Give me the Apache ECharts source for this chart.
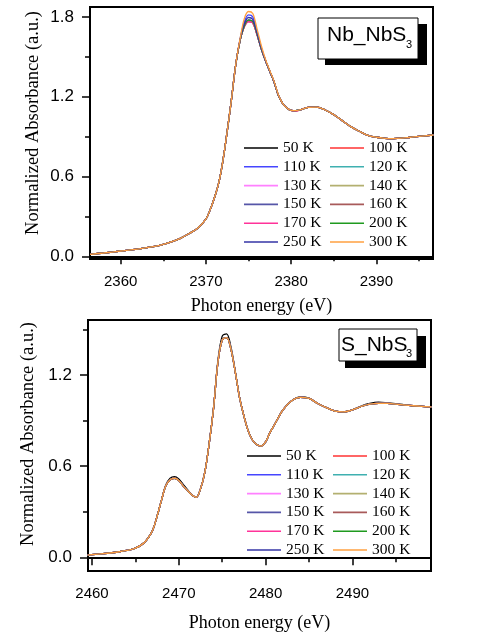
<!DOCTYPE html>
<html>
<head>
<meta charset="utf-8">
<script src="https://cdn.jsdelivr.net/npm/echarts@6/dist/echarts.min.js"></script>
<style>
html,body{margin:0;padding:0;background:#fff;}
#c{width:483px;height:644px;}
</style>
</head>
<body>
<div id="c"></div>
<script>
// ---------- data ----------
const temps = ['50 K','100 K','110 K','120 K','130 K','140 K','150 K','160 K','170 K','200 K','250 K','300 K'];
const colors = ['#000000','#ff3333','#4646ff','#3fb0b0','#ff80ff','#b3b070','#5656a8','#a85a5a','#ff3399','#1f9a1f','#3434a6','#ffa040'];
const legendCol1 = ['50 K','110 K','130 K','150 K','170 K','250 K'];
const legendCol2 = ['100 K','120 K','140 K','160 K','200 K','300 K'];

// Nb_NbS3 panel (top)
const nbE = [2356.4,2358,2360,2362,2364,2365,2366,2367,2368,2369,2370,2370.5,2371,2371.5,2372,2372.5,2373,2373.5,2374,2374.5,2375,2375.5,2376,2376.5,2377,2377.5,2378,2378.5,2379,2379.5,2380,2380.5,2381,2382,2383,2384,2385,2386,2387,2388,2389,2390,2391,2392,2393,2394,2395,2396.7];
const nbMid = [0.015,0.025,0.04,0.055,0.075,0.09,0.11,0.135,0.17,0.21,0.28,0.35,0.44,0.55,0.72,0.94,1.18,1.44,1.62,1.73,1.775,1.765,1.67,1.56,1.47,1.39,1.31,1.21,1.15,1.115,1.097,1.095,1.10,1.12,1.122,1.10,1.065,1.02,0.975,0.94,0.91,0.895,0.887,0.885,0.888,0.895,0.902,0.912];
const nbLow = [0.015,0.025,0.04,0.055,0.075,0.09,0.11,0.135,0.17,0.21,0.28,0.35,0.44,0.55,0.72,0.94,1.18,1.44,1.62,1.725,1.765,1.755,1.665,1.56,1.47,1.39,1.31,1.21,1.15,1.115,1.097,1.093,1.10,1.12,1.122,1.10,1.065,1.02,0.975,0.94,0.91,0.895,0.887,0.885,0.888,0.895,0.902,0.912];
const nbBlue = [0.015,0.025,0.04,0.055,0.075,0.09,0.11,0.135,0.17,0.21,0.28,0.35,0.44,0.55,0.72,0.94,1.18,1.44,1.63,1.76,1.815,1.80,1.69,1.57,1.47,1.39,1.31,1.21,1.15,1.115,1.097,1.095,1.10,1.12,1.122,1.10,1.065,1.02,0.975,0.94,0.91,0.895,0.887,0.885,0.888,0.895,0.902,0.912];
const nbNavy = [0.015,0.025,0.04,0.055,0.075,0.09,0.11,0.135,0.17,0.21,0.28,0.35,0.44,0.55,0.72,0.94,1.18,1.44,1.625,1.745,1.795,1.78,1.68,1.565,1.47,1.39,1.31,1.21,1.15,1.115,1.097,1.095,1.10,1.12,1.122,1.10,1.065,1.02,0.975,0.94,0.91,0.895,0.887,0.885,0.888,0.895,0.902,0.912];
const nbOrange = [0.015,0.025,0.04,0.055,0.075,0.09,0.11,0.135,0.17,0.21,0.28,0.35,0.44,0.55,0.72,0.94,1.18,1.44,1.63,1.785,1.84,1.825,1.71,1.585,1.48,1.395,1.315,1.215,1.15,1.115,1.097,1.095,1.10,1.12,1.122,1.10,1.065,1.02,0.975,0.94,0.91,0.895,0.887,0.885,0.888,0.895,0.902,0.912];
const nbSeries = [nbMid, nbLow, nbBlue, nbMid, nbLow, nbMid, nbMid, nbLow, nbLow, nbMid, nbNavy, nbOrange];

// S_NbS3 panel (bottom)
const sE = [2459.5,2461,2463,2464,2465,2466,2466.5,2467,2467.5,2468,2468.5,2469,2469.5,2470,2470.5,2471,2471.5,2472,2472.5,2473,2473.5,2474,2474.5,2475,2475.5,2476,2476.5,2477,2477.5,2478,2478.5,2479,2479.5,2480,2480.5,2481,2482,2483,2484,2485,2486,2487,2488,2489,2490,2491,2492,2493,2494,2495,2496,2497,2498,2499.1];
const sBase = [0.015,0.022,0.035,0.045,0.06,0.095,0.13,0.18,0.27,0.375,0.47,0.51,0.52,0.505,0.47,0.44,0.41,0.395,0.45,0.56,0.75,0.98,1.28,1.43,1.445,1.37,1.22,1.05,0.93,0.83,0.77,0.74,0.732,0.76,0.82,0.87,0.97,1.03,1.052,1.045,1.012,0.985,0.962,0.957,0.97,0.992,1.008,1.013,1.012,1.008,1.002,0.997,0.993,0.99];
const sBlack = [0.015,0.022,0.035,0.045,0.06,0.095,0.13,0.18,0.27,0.375,0.475,0.52,0.53,0.515,0.48,0.445,0.41,0.395,0.45,0.56,0.75,0.98,1.29,1.455,1.47,1.385,1.225,1.05,0.93,0.83,0.77,0.74,0.732,0.76,0.82,0.87,0.97,1.03,1.055,1.048,1.012,0.985,0.962,0.957,0.97,0.995,1.012,1.02,1.016,1.01,1.003,0.998,0.993,0.99];
const sSeries = [sBlack, sBase, sBase, sBase, sBase, sBase, sBase, sBase, sBase, sBase, sBase, sBase];

// axis ticks
const nbXMajor = [2360,2370,2380,2390];
const nbXMinor = [2365,2375,2385,2395];
const nbYMajor = [0,0.6,1.2,1.8];
const nbYMinor = [0.3,0.9,1.5];
const sXMajor = [2460,2470,2480,2490];
const sXMinor = [2465,2475,2485,2495];
const sYMajor = [0,0.6,1.2];
const sYMinor = [0.3,0.9,1.5];

const nbLabel = ['Nb_NbS', '3'];
const sLabel = ['S_NbS', '3'];
const xTitle = 'Photon energy (eV)';
const yTitle = 'Normalized Absorbance (a.u.)';

// ---------- chart ----------
const SANS = '"Liberation Sans", Arial, sans-serif';
const SERIF = '"Liberation Serif", "Times New Roman", serif';

function mainAxis(type, gridIndex, min, max, major, opts) {
  return Object.assign({
    type: 'value', gridIndex, min, max,
    axisLine: {show: true, lineStyle: {color: '#000', width: 2}},
    axisTick: {show: true, inside: false, length: 8, customValues: major, lineStyle: {color: '#000', width: 1.5}},
    axisLabel: {show: true, customValues: major, color: '#000', fontFamily: SANS, fontSize: 15, margin: 15,
      formatter: v => String(Math.round(v))},
    splitLine: {show: false}
  }, opts || {});
}
function minorAxis(gridIndex, min, max, minor, pos) {
  return {
    type: 'value', gridIndex, min, max, position: pos,
    axisLine: {show: false},
    axisTick: {show: true, inside: false, length: 5, customValues: minor, lineStyle: {color: '#000', width: 1.5}},
    axisLabel: {show: false},
    splitLine: {show: false}
  };
}

const series = [];
temps.forEach((t, i) => {
  series.push({
    name: t, type: 'line', xAxisIndex: 0, yAxisIndex: 0,
    data: nbE.map((e, k) => [e, nbSeries[i][k]]),
    symbol: 'none', showSymbol: false, smooth: 0.35, color: colors[i],
    lineStyle: {width: 1.3, color: colors[i]}
  });
});
temps.forEach((t, i) => {
  series.push({
    name: t, type: 'line', xAxisIndex: 2, yAxisIndex: 2,
    data: sE.map((e, k) => [e, sSeries[i][k]]),
    symbol: 'none', showSymbol: false, smooth: 0.35, color: colors[i],
    lineStyle: {width: 1.3, color: colors[i]}
  });
});

function legend(data, left, top) {
  return {
    data, left, top, orient: 'vertical', padding: 0,
    icon: 'rect', itemWidth: 34, itemHeight: 1.6, itemGap: 2.8, selectedMode: false,
    textStyle: {fontFamily: SERIF, fontSize: 15.5, color: '#000', lineHeight: 14}
  };
}

function labelBox(bx, by, bw, bh, sx, sy, sw, sh, txt, tx, ty, subx, suby) {
  return [
    {type: 'rect', shape: {x: sx, y: sy, width: sw, height: sh}, style: {fill: '#000'}, z: 100},
    {type: 'rect', shape: {x: bx, y: by, width: bw, height: bh}, style: {fill: '#fff', stroke: '#000', lineWidth: 1}, z: 101},
    {type: 'text', x: tx, y: ty, z: 102, style: {text: txt[0], fontFamily: SANS, fontSize: 21, fill: '#000', align: 'left', verticalAlign: 'middle'}},
    {type: 'text', x: subx, y: suby, z: 102, style: {text: txt[1], fontFamily: SANS, fontSize: 11, fill: '#000', align: 'left', verticalAlign: 'middle'}}
  ];
}

const yLabel = major => ({show: true, customValues: major, color: '#000', fontFamily: SANS, fontSize: 17, margin: 16, formatter: v => Number(v).toFixed(1)});

const option = {
  animation: false,
  backgroundColor: '#fff',
  grid: [
    {left: 90, top: 7, width: 343, height: 252, show: true, borderColor: '#000', borderWidth: 2, backgroundColor: 'transparent'},
    {left: 88, top: 320, width: 343, height: 251, show: true, borderColor: '#000', borderWidth: 2, backgroundColor: 'transparent'}
  ],
  xAxis: [
    mainAxis('x', 0, 2356.4, 2396.65, nbXMajor, {name: xTitle, nameLocation: 'middle', nameGap: 38, nameMoveOverlap: false,
      nameTextStyle: {fontFamily: SERIF, fontSize: 18, color: '#000'}}),
    minorAxis(0, 2356.4, 2396.65, nbXMinor, 'bottom'),
    mainAxis('x', 1, 2459.54, 2499.05, sXMajor, {name: xTitle, nameLocation: 'middle', nameGap: 43, nameMoveOverlap: false,
      nameTextStyle: {fontFamily: SERIF, fontSize: 18, color: '#000'}}),
    minorAxis(1, 2459.54, 2499.05, sXMinor, 'bottom')
  ],
  yAxis: [
    mainAxis('y', 0, -0.02, 1.874, nbYMajor, {axisLabel: yLabel(nbYMajor)}),
    minorAxis(0, -0.02, 1.874, nbYMinor, 'left'),
    mainAxis('y', 1, -0.09, 1.561, sYMajor, {axisLabel: yLabel(sYMajor)}),
    minorAxis(1, -0.09, 1.561, sYMinor, 'left')
  ],
  legend: [
    legend(legendCol1, 244, 140),
    legend(legendCol2, 330, 140),
    legend(legendCol1, 247, 448),
    legend(legendCol2, 333, 448)
  ],
  graphic: [
    {type: 'text', x: 33, y: 123, rotation: Math.PI / 2, style: {text: yTitle, fontFamily: SERIF, fontSize: 18.5, fill: '#000', align: 'center', verticalAlign: 'middle'}},
    {type: 'text', x: 28, y: 434, rotation: Math.PI / 2, style: {text: yTitle, fontFamily: SERIF, fontSize: 18.5, fill: '#000', align: 'center', verticalAlign: 'middle'}}
  ].concat(
    labelBox(318, 18, 100, 41, 325, 24, 102, 41, nbLabel, 327, 35, 406, 45),
    labelBox(339, 329, 78, 32, 345, 336, 81, 32, sLabel, 341, 345, 406, 354)
  ),
  series
};

const chart = echarts.init(document.getElementById('c'), null, {renderer: 'canvas'});
chart.setOption(option);
</script>
</body>
</html>
